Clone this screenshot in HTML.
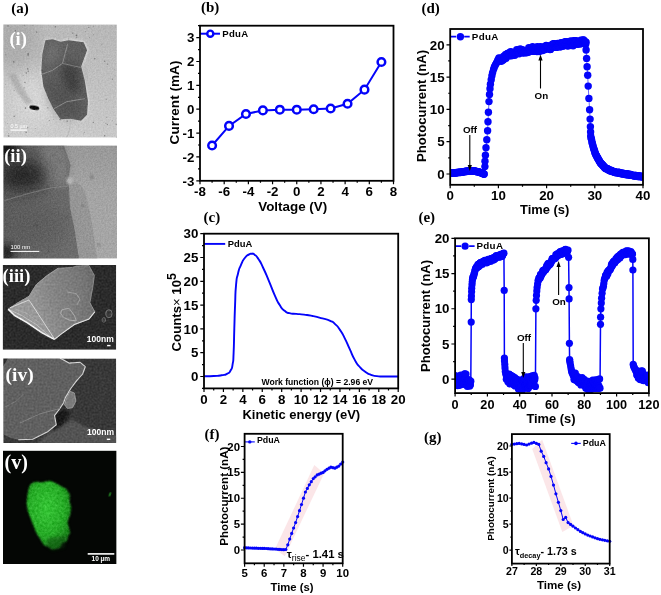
<!DOCTYPE html>
<html lang="en"><head><meta charset="utf-8"><title>PduA figure</title>
<style>html,body{margin:0;padding:0;background:#fff}body{width:661px;height:595px;overflow:hidden}svg{display:block}</style>
</head><body>
<svg width="661" height="595" viewBox="0 0 661 595">
<rect width="661" height="595" fill="#fff"/>
<defs>
<filter id="b05" x="-50%" y="-50%" width="200%" height="200%"><feGaussianBlur stdDeviation="0.5"/></filter>
<filter id="b1" x="-50%" y="-50%" width="200%" height="200%"><feGaussianBlur stdDeviation="0.9"/></filter>
<filter id="b2" x="-50%" y="-50%" width="200%" height="200%"><feGaussianBlur stdDeviation="1.8"/></filter>
<filter id="b4" x="-50%" y="-50%" width="200%" height="200%"><feGaussianBlur stdDeviation="4"/></filter>
<filter id="b8" x="-50%" y="-50%" width="200%" height="200%"><feGaussianBlur stdDeviation="8"/></filter>
<filter id="n1" filterUnits="userSpaceOnUse" x="0" y="0" width="125" height="595" color-interpolation-filters="sRGB"><feTurbulence type="fractalNoise" baseFrequency="0.6" numOctaves="3" seed="4" result="t"/><feColorMatrix in="t" type="matrix" values="1 0 0 0 0  1 0 0 0 0  1 0 0 0 0  0 0 0 0 1" result="g"/><feComposite in="SourceGraphic" in2="g" operator="arithmetic" k1="0" k2="1" k3="0.12" k4="-0.06"/></filter>
<filter id="n2" filterUnits="userSpaceOnUse" x="0" y="0" width="125" height="595" color-interpolation-filters="sRGB"><feTurbulence type="fractalNoise" baseFrequency="0.6" numOctaves="3" seed="9" result="t"/><feColorMatrix in="t" type="matrix" values="1 0 0 0 0  1 0 0 0 0  1 0 0 0 0  0 0 0 0 1" result="g"/><feComposite in="SourceGraphic" in2="g" operator="arithmetic" k1="0" k2="1" k3="0.14" k4="-0.07"/></filter>
<filter id="n3" filterUnits="userSpaceOnUse" x="0" y="0" width="125" height="595" color-interpolation-filters="sRGB"><feTurbulence type="fractalNoise" baseFrequency="0.5" numOctaves="3" seed="2" result="t"/><feColorMatrix in="t" type="matrix" values="1 0 0 0 0  1 0 0 0 0  1 0 0 0 0  0 0 0 0 1" result="g"/><feComposite in="SourceGraphic" in2="g" operator="arithmetic" k1="0" k2="1" k3="0.16" k4="-0.08"/></filter>
<filter id="n5" filterUnits="userSpaceOnUse" x="0" y="0" width="125" height="595" color-interpolation-filters="sRGB"><feTurbulence type="fractalNoise" baseFrequency="0.4" numOctaves="3" seed="7" result="t"/><feColorMatrix in="t" type="matrix" values="1 0 0 0 0  1 0 0 0 0  1 0 0 0 0  0 0 0 0 1" result="g"/><feComposite in="SourceGraphic" in2="g" operator="arithmetic" k1="0" k2="1" k3="0.22" k4="-0.11"/><feComposite operator="in" in2="SourceAlpha"/></filter>
<clipPath id="c1"><rect x="3.4" y="24.4" width="113.4" height="113.2"/></clipPath>
<clipPath id="c2"><rect x="3.4" y="145.4" width="113.6" height="113.2"/></clipPath>
<clipPath id="c3"><rect x="2.7" y="265.0" width="113.5" height="84.7"/></clipPath>
<clipPath id="c4"><rect x="3.3" y="358.5" width="112.9" height="84.5"/></clipPath>
<clipPath id="c5"><rect x="3.0" y="450.6" width="113.6" height="113.4"/></clipPath>
<linearGradient id="g1" x1="0.3" y1="1" x2="0.6" y2="0"><stop offset="0" stop-color="#cccccc"/><stop offset="0.5" stop-color="#c2c2c2"/><stop offset="1" stop-color="#b8b8b8"/></linearGradient>
<linearGradient id="g2" x1="0" y1="0" x2="1" y2="0.3"><stop offset="0" stop-color="#565656"/><stop offset="0.6" stop-color="#646464"/><stop offset="1" stop-color="#6c6c6c"/></linearGradient>
<linearGradient id="g2r" x1="0" y1="0" x2="0" y2="1"><stop offset="0" stop-color="#989898"/><stop offset="0.4" stop-color="#a4a4a4"/><stop offset="1" stop-color="#a6a6a6"/></linearGradient>
<linearGradient id="g3" x1="0" y1="0.6" x2="1" y2="0.4"><stop offset="0" stop-color="#a4a4a4"/><stop offset="0.4" stop-color="#909090"/><stop offset="1" stop-color="#6c6c6c"/></linearGradient>
<radialGradient id="g5" cx="0.45" cy="0.4" r="0.7"><stop offset="0" stop-color="#36c636"/><stop offset="0.55" stop-color="#27aa27"/><stop offset="1" stop-color="#166c16"/></radialGradient>
</defs>
<g clip-path="url(#c1)"><g filter="url(#n1)">
<rect x="3.4" y="24.4" width="113.4" height="113.2" fill="url(#g1)"/>
<ellipse cx="12" cy="40" rx="26" ry="30" fill="#a8a8a8" filter="url(#b8)" opacity="0.8"/>
<ellipse cx="34.3" cy="100.7" rx="22" ry="26" fill="#d6d6d6" filter="url(#b8)" opacity="0.9"/>
<polygon points="8.1,74.5 15.1,73.4 22.2,86.6 32.3,102.7 26.2,104.7 16.1,90.6" fill="#a0a0a0" filter="url(#b1)" opacity="0.6"/>
<polygon points="45.4,40.2 52.4,39.2 60.5,41.8 68.6,40.2 83.7,42.2 87.1,50.3 81.1,66.4 84.7,80.5 87.9,100.7 87.1,114.8 81.1,120.8 70.6,118.8 60.5,119.2 53.4,108.7 48.4,98.7 43.4,86.6 41.3,70.4 42.4,54.3" fill="#dcdcdc" stroke="#dcdcdc" stroke-width="2.4" stroke-linejoin="round" filter="url(#b1)"/>
<polygon points="45.4,40.2 52.4,39.2 60.5,41.8 68.6,40.2 83.7,42.2 87.1,50.3 81.1,66.4 84.7,80.5 87.9,100.7 87.1,114.8 81.1,120.8 70.6,118.8 60.5,119.2 53.4,108.7 48.4,98.7 43.4,86.6 41.3,70.4 42.4,54.3" fill="#5e5e5e" filter="url(#b05)"/>
<polygon points="60.5,64.4 76.6,63.4 80.7,80.5 79.7,92.6 68.6,94.6 62.5,80.5" fill="#3e3e3e" filter="url(#b4)" opacity="0.9"/>
<polygon points="46.4,78.5 64.5,86.6 80.7,104.7 80.7,116.8 60.5,116.8 50.4,100.7" fill="#505050" filter="url(#b4)" opacity="0.7"/>
<polygon points="46.4,42.2 60.5,43.2 58.5,60.3 43.4,68.4" fill="#747474" filter="url(#b4)" opacity="0.7"/>
<polyline points="41.3,74.5 52.4,70.4 62.5,63.4 67.6,44.2" stroke="#909090" stroke-width="0.9" filter="url(#b05)" fill="none"/>
<polyline points="54.1,108.7 66.6,101.7 84.7,98.7" stroke="#909090" stroke-width="0.9" filter="url(#b05)" fill="none"/>
<polyline points="62.5,63.4 80.7,67.4" stroke="#888" stroke-width="0.8" filter="url(#b05)" fill="none"/>
<polyline points="70.6,119.8 69.6,129.9 66.6,137.6" stroke="#b8b8b8" stroke-width="1" filter="url(#b05)" fill="none"/>
<ellipse cx="34.3" cy="107.7" rx="6" ry="3" fill="#f0f0f0" filter="url(#b1)"/>
<ellipse cx="34.3" cy="107.7" rx="5" ry="2.2" fill="#101010" filter="url(#b05)" transform="rotate(10 34.3 107.7)"/>
<g fill="#606060" opacity="0.7" filter="url(#b05)"><circle cx="55.1" cy="87.8" r="0.81"/><circle cx="56.6" cy="81.9" r="0.64"/><circle cx="24.9" cy="82.4" r="0.66"/><circle cx="93.6" cy="34.7" r="0.50"/><circle cx="14.2" cy="116.3" r="0.70"/><circle cx="8.7" cy="136.0" r="0.83"/><circle cx="77.9" cy="94.2" r="0.43"/><circle cx="5.7" cy="84.2" r="0.38"/><circle cx="25.5" cy="51.6" r="0.37"/><circle cx="56.4" cy="74.2" r="0.77"/><circle cx="62.7" cy="97.0" r="0.60"/><circle cx="78.9" cy="76.1" r="0.49"/><circle cx="116.7" cy="137.5" r="0.77"/><circle cx="84.0" cy="59.9" r="0.46"/><circle cx="36.7" cy="32.0" r="0.73"/><circle cx="49.2" cy="120.5" r="0.54"/><circle cx="112.3" cy="120.6" r="0.35"/><circle cx="27.7" cy="127.8" r="0.58"/><circle cx="114.8" cy="69.3" r="0.39"/><circle cx="75.1" cy="112.8" r="0.48"/><circle cx="13.8" cy="61.9" r="0.83"/><circle cx="89.7" cy="37.5" r="0.47"/><circle cx="15.4" cy="30.8" r="0.75"/><circle cx="24.1" cy="87.8" r="0.57"/><circle cx="25.5" cy="107.4" r="0.42"/><circle cx="76.7" cy="37.3" r="0.56"/><circle cx="28.1" cy="54.8" r="0.84"/><circle cx="94.8" cy="58.7" r="0.79"/><circle cx="27.8" cy="68.9" r="0.78"/><circle cx="76.5" cy="35.4" r="0.84"/><circle cx="28.1" cy="53.4" r="0.74"/><circle cx="41.2" cy="57.8" r="0.39"/><circle cx="14.2" cy="90.4" r="0.47"/><circle cx="71.9" cy="66.4" r="0.58"/><circle cx="112.4" cy="79.1" r="0.64"/><circle cx="101.9" cy="44.8" r="0.43"/><circle cx="106.7" cy="117.2" r="0.47"/><circle cx="25.4" cy="108.3" r="0.82"/><circle cx="26.2" cy="132.3" r="0.79"/><circle cx="72.2" cy="72.0" r="0.40"/><circle cx="8.4" cy="133.7" r="0.47"/><circle cx="83.6" cy="53.3" r="0.76"/><circle cx="71.4" cy="57.5" r="0.44"/><circle cx="85.4" cy="31.8" r="0.46"/><circle cx="67.2" cy="121.2" r="0.66"/><circle cx="35.7" cy="128.6" r="0.45"/><circle cx="5.9" cy="54.7" r="0.57"/><circle cx="10.8" cy="44.1" r="0.53"/><circle cx="68.7" cy="39.0" r="0.53"/><circle cx="104.7" cy="135.8" r="0.68"/><circle cx="82.1" cy="90.6" r="0.42"/><circle cx="8.0" cy="26.0" r="0.81"/><circle cx="83.2" cy="133.8" r="0.36"/><circle cx="75.9" cy="79.0" r="0.72"/><circle cx="40.0" cy="137.9" r="0.39"/><circle cx="65.7" cy="108.0" r="0.80"/><circle cx="87.3" cy="104.2" r="0.75"/><circle cx="107.4" cy="64.1" r="0.69"/><circle cx="105.8" cy="123.3" r="0.56"/><circle cx="93.3" cy="122.4" r="0.64"/><circle cx="74.6" cy="67.6" r="0.64"/><circle cx="72.8" cy="33.1" r="0.67"/><circle cx="116.2" cy="124.3" r="0.71"/><circle cx="47.9" cy="107.8" r="0.64"/><circle cx="53.8" cy="119.6" r="0.39"/><circle cx="88.8" cy="27.4" r="0.65"/><circle cx="58.3" cy="50.2" r="0.70"/><circle cx="60.2" cy="94.1" r="0.81"/><circle cx="32.9" cy="25.3" r="0.50"/><circle cx="80.6" cy="47.1" r="0.43"/><circle cx="106.3" cy="99.2" r="0.57"/><circle cx="104.8" cy="61.3" r="0.68"/><circle cx="26.4" cy="73.1" r="0.75"/><circle cx="107.3" cy="124.4" r="0.54"/><circle cx="69.9" cy="60.1" r="0.42"/><circle cx="60.1" cy="119.4" r="0.77"/><circle cx="84.4" cy="132.3" r="0.49"/><circle cx="23.1" cy="75.4" r="0.49"/><circle cx="28.2" cy="71.2" r="0.66"/><circle cx="59.8" cy="60.0" r="0.77"/><circle cx="115.0" cy="75.6" r="0.39"/><circle cx="7.6" cy="123.5" r="0.37"/><circle cx="84.1" cy="89.0" r="0.50"/><circle cx="93.4" cy="26.2" r="0.42"/><circle cx="55.4" cy="26.8" r="0.76"/><circle cx="30.8" cy="40.1" r="0.37"/><circle cx="75.1" cy="74.9" r="0.66"/><circle cx="78.0" cy="116.0" r="0.83"/><circle cx="81.3" cy="46.7" r="0.59"/><circle cx="24.2" cy="25.2" r="0.59"/></g>
</g>
<rect x="10.5" y="129.5" width="16.4" height="1.2" fill="#fff"/>
<text x="10.5" y="128.3" font-family="'Liberation Sans', Arial, sans-serif" font-size="5.2" fill="#fff" textLength="16.4" lengthAdjust="spacingAndGlyphs">0.5 µm</text>
</g>
<text x="9.4" y="44.8" font-family="'Liberation Serif', 'Times New Roman', serif" font-weight="bold" font-size="18.5" fill="#fff">(i)</text>
<g clip-path="url(#c2)"><g filter="url(#n2)">
<rect x="3.4" y="145.4" width="113.6" height="113.2" fill="url(#g2r)"/>
<polygon points="66.6,145.0 70.6,179.3 79.7,184.4 84.7,190.4 89.8,211.6 93.2,229.9 97.2,260.0 60.5,260.0 60.5,145.0" fill="#969696" filter="url(#b05)"/>
<polygon points="0.0,144.0 63.5,144.0 70.6,165.2 68.0,179.3 69.0,187.4 70.0,207.6 75.0,231.8 79.1,260.0 0.0,260.0" fill="url(#g2)" filter="url(#b05)"/>
<polygon points="40.3,145.0 63.5,145.0 69.6,165.2 67.6,184.4 50.4,187.0 42.4,171.3" fill="#808080" filter="url(#b4)" opacity="0.8"/>
<ellipse cx="22.2" cy="175.3" rx="24" ry="15" fill="#1e1e1e" filter="url(#b8)" opacity="0.85"/>
<ellipse cx="6.1" cy="149.1" rx="12" ry="10" fill="#101010" filter="url(#b4)" opacity="0.9"/>
<ellipse cx="7.1" cy="252.9" rx="7" ry="9" fill="#161616" filter="url(#b4)" opacity="0.95"/>
<ellipse cx="40.3" cy="225.7" rx="26" ry="22" fill="#5a5a5a" filter="url(#b8)" opacity="0.6"/>
<polyline points="4.4,200.5 30.3,193.0 50.4,188.0 68.0,185.8" stroke="#8c8c8c" stroke-width="1.2" filter="url(#b05)" opacity="0.6" fill="none"/>
<circle cx="70.0" cy="180.7" r="3.6" fill="#b4b4b4" filter="url(#b1)"/>
<circle cx="91.8" cy="176.9" r="1.76" fill="#404040" opacity="0.45" filter="url(#b1)"/>
<circle cx="53.4" cy="155.1" r="1.44" fill="#404040" opacity="0.45" filter="url(#b1)"/>
<circle cx="59.5" cy="161.2" r="1.28" fill="#404040" opacity="0.45" filter="url(#b1)"/>
<circle cx="30.3" cy="171.3" r="1.92" fill="#404040" opacity="0.45" filter="url(#b1)"/>
<circle cx="66.6" cy="217.6" r="1.28" fill="#404040" opacity="0.45" filter="url(#b1)"/>
<circle cx="82.7" cy="205.5" r="1.28" fill="#404040" opacity="0.45" filter="url(#b1)"/>
<circle cx="98.8" cy="244.9" r="1.44" fill="#404040" opacity="0.45" filter="url(#b1)"/>
<circle cx="36.3" cy="225.7" r="1.60" fill="#404040" opacity="0.45" filter="url(#b1)"/>
<circle cx="48.4" cy="250.9" r="1.28" fill="#404040" opacity="0.45" filter="url(#b1)"/>
</g>
<rect x="10.5" y="250.9" width="28.8" height="1" fill="#fff"/>
<text x="10.5" y="249.1" font-family="'Liberation Sans', Arial, sans-serif" font-size="5.4" fill="#fff" textLength="19.6" lengthAdjust="spacingAndGlyphs">100 nm</text>
</g>
<text x="4.2" y="162.2" font-family="'Liberation Serif', 'Times New Roman', serif" font-weight="bold" font-size="18.5" fill="#fff">(ii)</text>
<g clip-path="url(#c3)"><g filter="url(#n3)">
<rect x="2.7" y="265.0" width="113.5" height="84.7" fill="#2b2b2b"/>
<polygon points="58.1,268.3 72.6,267.4 76.3,266.1 89.0,265.5 94.4,275.5 92.6,288.2 89.9,302.8 94.8,311.8 89.0,319.1 74.4,324.5 61.7,333.6 54.5,339.4 41.8,332.7 27.2,322.7 14.5,315.5 8.2,309.1 16.3,303.7 29.0,296.4 36.3,284.6 47.2,275.5" fill="url(#g3)" stroke="#9a9a9a" stroke-width="0.8" stroke-linejoin="round" filter="url(#b05)"/>
<polygon points="54.5,271.9 87.1,270.1 90.8,288.2 87.1,304.6 69.0,315.5 47.2,306.4 39.9,290.0" fill="#808080" filter="url(#b4)" opacity="0.3"/>
<polygon points="8.2,309.1 29.0,300.0 54.5,339.4 41.8,332.7 27.2,322.7 14.5,315.5" fill="#9a9a9a" filter="url(#b1)" opacity="0.9"/>
<polyline points="10.9,310.4 21.8,315.5 36.3,324.5 50.8,337.3" stroke="#c8c8c8" stroke-width="0.8" filter="url(#b05)" fill="none"/>
<polyline points="14.5,308.6 27.2,313.7 41.8,324.5" stroke="#b0b0b0" stroke-width="0.8" filter="url(#b05)" fill="none"/>
<polyline points="8.2,309.1 14.5,315.5 27.2,322.7 41.8,332.7 54.5,339.4" stroke="#f4f4f4" stroke-width="1.5" filter="url(#b05)" fill="none"/>
<polyline points="10.0,307.8 29.0,300.0 42.7,320.9 54.5,339.1" stroke="#d8d8d8" stroke-width="1" filter="url(#b05)" fill="none"/>
<polyline points="16.3,303.7 29.0,296.4 36.3,284.6 47.2,275.5 58.1,268.3" stroke="#a0a0a0" stroke-width="0.8" filter="url(#b05)" fill="none"/>
<polyline points="54.5,339.4 61.7,333.6 74.4,324.5 89.0,319.1 94.8,311.8" stroke="#e0e0e0" stroke-width="1.1" filter="url(#b05)" fill="none"/>
<polyline points="61.7,310.0 69.0,308.2 74.4,315.5 76.3,320.9 69.0,320.0 63.5,317.3 60.8,313.7 61.7,310.0" stroke="#b4b4b4" stroke-width="0.8" filter="url(#b05)" fill="none"/>
<polyline points="67.2,291.9 76.3,293.7 79.9,299.1 77.2,304.6" stroke="#a8a8a8" stroke-width="0.8" filter="url(#b05)" fill="none"/>
<ellipse cx="108.9" cy="313.7" rx="3.2" ry="4" fill="#3a3a3a" stroke="#787878" stroke-width="0.9" filter="url(#b05)"/>
<ellipse cx="103.8" cy="320.0" rx="1.8" ry="2.4" fill="#3a3a3a" stroke="#6e6e6e" stroke-width="0.8" filter="url(#b05)"/>
</g>
<text x="86.8" y="342.0" font-family="'Liberation Sans', Arial, sans-serif" font-weight="bold" font-size="8.6" fill="#fff" textLength="27" lengthAdjust="spacingAndGlyphs">100nm</text>
<rect x="107.1" y="344.9" width="3.4" height="1.4" fill="#fff"/>
</g>
<text x="2.6" y="281.6" font-family="'Liberation Serif', 'Times New Roman', serif" font-weight="bold" font-size="18.5" fill="#fff">(iii)</text>
<g clip-path="url(#c4)"><g filter="url(#n3)">
<rect x="3.3" y="358.5" width="112.9" height="84.5" fill="#383838"/>
<polygon points="59.9,426.6 72.6,419.4 85.3,426.6 101.7,432.1 117.1,435.7 117.1,443.9 36.3,443.9 47.2,433.9" fill="#525252" filter="url(#b1)"/>
<polygon points="54.5,413.9 63.5,408.5 69.9,412.1 65.4,421.2 59.9,426.6 52.7,430.3" fill="#161616" filter="url(#b2)" opacity="0.9"/>
<polygon points="8.2,357.6 59.9,357.6 69.0,363.1 79.9,362.2 85.3,366.7 82.6,374.0 76.3,381.2 70.8,388.5 65.4,397.6 63.5,403.0 59.9,408.5 54.5,415.7 56.3,424.8 47.2,432.1 32.7,439.3 18.2,439.7 10.9,437.9 2.7,433.9 2.7,366.7" fill="#606060" filter="url(#b05)"/>
<polyline points="59.9,358.0 69.0,363.1 79.9,362.2 85.3,366.7 82.6,374.0 76.3,381.2 70.8,388.5 65.4,397.6 63.5,403.0 59.9,408.5 54.5,415.7 56.3,424.8 47.2,432.1 32.7,439.3 18.2,439.7" stroke="#d4d4d4" stroke-width="1.1" stroke-linejoin="round" filter="url(#b05)" fill="none"/>
<polygon points="66.3,398.5 69.9,391.2 74.4,393.0 75.9,401.2 72.6,407.6 67.5,408.5 64.5,404.8" fill="#7a7a7a" stroke="#b0b0b0" stroke-width="0.7" filter="url(#b05)"/>
<polygon points="2.7,357.6 8.2,357.6 2.7,366.7" fill="#2a2a2a" filter="url(#b05)"/>
<polyline points="20.0,423.0 39.9,413.9 59.9,408.5" stroke="#8a8a8a" stroke-width="0.8" filter="url(#b05)" fill="none"/>
<polyline points="5.4,406.7 16.3,401.2 23.6,393.9" stroke="#7c7c7c" stroke-width="0.8" filter="url(#b05)" fill="none"/>
<polyline points="98.9,370.3 105.3,390.3 98.9,406.7 101.7,415.7" stroke="#444" stroke-width="1" filter="url(#b1)" fill="none"/>
</g>
<text x="87.1" y="435.3" font-family="'Liberation Sans', Arial, sans-serif" font-weight="bold" font-size="8.6" fill="#fff" textLength="27" lengthAdjust="spacingAndGlyphs">100nm</text>
<rect x="106.8" y="438.6" width="3.4" height="1.4" fill="#fff"/>
</g>
<text x="5.6" y="381.0" font-family="'Liberation Serif', 'Times New Roman', serif" font-weight="bold" font-size="19.4" fill="#fff">(iv)</text>
<g clip-path="url(#c5)">
<rect x="3.0" y="450.6" width="113.6" height="113.4" fill="#040604"/>
<g filter="url(#n5)">
<polygon points="28.2,487.3 30.3,483.3 35.3,480.9 41.3,481.7 50.4,479.9 57.5,483.3 62.5,486.3 66.6,488.3 70.6,494.4 70.2,501.5 72.0,507.5 70.6,515.6 68.2,521.6 69.6,527.7 71.0,532.7 68.6,536.8 67.6,541.8 62.5,543.8 60.5,548.3 52.4,550.3 48.4,547.4 43.4,545.8 39.3,538.8 35.9,533.7 32.3,524.7 30.3,519.6 27.2,511.5 25.8,503.5 26.6,495.4" fill="url(#g5)" filter="url(#b1)"/>
</g>
<polygon points="48.4,537.8 66.6,535.7 64.5,547.8 52.4,550.9 45.4,545.8" fill="#0c3a0c" filter="url(#b2)" opacity="0.4"/>
<ellipse cx="109.9" cy="494.4" rx="1.1" ry="2.4" fill="#1d6a1d" filter="url(#b05)" transform="rotate(20 109.9 494.4)"/>
<rect x="87.7" y="553.1" width="26.6" height="1.6" fill="#fff"/>
<text x="100.8" y="560.8" font-family="'Liberation Sans', Arial, sans-serif" font-weight="bold" font-size="6.5" fill="#fff" text-anchor="middle">10 µm</text>
</g>
<text x="4.6" y="468.8" font-family="'Liberation Serif', 'Times New Roman', serif" font-weight="bold" font-size="20" fill="#fff">(v)</text>
<text x="11.30" y="12.60" font-family="'Liberation Serif', 'Times New Roman', serif" font-weight="bold" font-size="15" text-anchor="start" fill="#000" >(a)</text>
<text x="201.00" y="12.40" font-family="'Liberation Serif', 'Times New Roman', serif" font-weight="bold" font-size="15" text-anchor="start" fill="#000" >(b)</text>
<text x="203.50" y="222.00" font-family="'Liberation Serif', 'Times New Roman', serif" font-weight="bold" font-size="15" text-anchor="start" fill="#000" >(c)</text>
<text x="421.40" y="12.70" font-family="'Liberation Serif', 'Times New Roman', serif" font-weight="bold" font-size="15" text-anchor="start" fill="#000" >(d)</text>
<text x="418.40" y="222.00" font-family="'Liberation Serif', 'Times New Roman', serif" font-weight="bold" font-size="15" text-anchor="start" fill="#000" >(e)</text>
<text x="204.50" y="438.50" font-family="'Liberation Serif', 'Times New Roman', serif" font-weight="bold" font-size="15" text-anchor="start" fill="#000" >(f)</text>
<text x="424.00" y="441.50" font-family="'Liberation Serif', 'Times New Roman', serif" font-weight="bold" font-size="15" text-anchor="start" fill="#000" >(g)</text>
<path d="M200 33.7H220" stroke="#0404fa" stroke-width="2"/>
<circle cx="210.3" cy="33.7" r="3.05" fill="#fff" stroke="#0404fa" stroke-width="2.4"/>
<polyline fill="none" stroke="#0404fa" stroke-width="2.0" points="212.09,145.48 229.03,125.92 245.96,113.99 262.89,110.41 279.82,109.69 296.75,109.69 313.68,109.22 330.61,108.50 347.54,103.73 364.48,89.65 381.41,61.97"/>
<circle cx="212.09" cy="145.48" r="3.8" fill="#fff" stroke="#0404fa" stroke-width="2.5"/>
<circle cx="229.03" cy="125.92" r="3.8" fill="#fff" stroke="#0404fa" stroke-width="2.5"/>
<circle cx="245.96" cy="113.99" r="3.8" fill="#fff" stroke="#0404fa" stroke-width="2.5"/>
<circle cx="262.89" cy="110.41" r="3.8" fill="#fff" stroke="#0404fa" stroke-width="2.5"/>
<circle cx="279.82" cy="109.69" r="3.8" fill="#fff" stroke="#0404fa" stroke-width="2.5"/>
<circle cx="296.75" cy="109.69" r="3.8" fill="#fff" stroke="#0404fa" stroke-width="2.5"/>
<circle cx="313.68" cy="109.22" r="3.8" fill="#fff" stroke="#0404fa" stroke-width="2.5"/>
<circle cx="330.61" cy="108.50" r="3.8" fill="#fff" stroke="#0404fa" stroke-width="2.5"/>
<circle cx="347.54" cy="103.73" r="3.8" fill="#fff" stroke="#0404fa" stroke-width="2.5"/>
<circle cx="364.48" cy="89.65" r="3.8" fill="#fff" stroke="#0404fa" stroke-width="2.5"/>
<circle cx="381.41" cy="61.97" r="3.8" fill="#fff" stroke="#0404fa" stroke-width="2.5"/>
<rect x="200.00" y="25.70" width="193.50" height="155.10" fill="none" stroke="#000" stroke-width="1.8"/>
<path d="M200.00 180.80v3.5M224.19 180.80v3.5M248.38 180.80v3.5M272.56 180.80v3.5M296.75 180.80v3.5M320.94 180.80v3.5M345.12 180.80v3.5M369.31 180.80v3.5M393.50 180.80v3.5M212.09 180.80v2.0M236.28 180.80v2.0M260.47 180.80v2.0M284.66 180.80v2.0M308.84 180.80v2.0M333.03 180.80v2.0M357.22 180.80v2.0M381.41 180.80v2.0" stroke="#000" stroke-width="1.2" fill="none"/>
<g font-family="'Liberation Sans', Arial, sans-serif" font-weight="bold" font-size="13.3" text-anchor="middle" fill="#000">
<text x="200.00" y="196.40">-8</text>
<text x="224.19" y="196.40">-6</text>
<text x="248.38" y="196.40">-4</text>
<text x="272.56" y="196.40">-2</text>
<text x="296.75" y="196.40">0</text>
<text x="320.94" y="196.40">2</text>
<text x="345.12" y="196.40">4</text>
<text x="369.31" y="196.40">6</text>
<text x="393.50" y="196.40">8</text>
</g>
<path d="M200.00 180.80h-3.7M200.00 156.94h-3.7M200.00 133.08h-3.7M200.00 109.22h-3.7M200.00 85.35h-3.7M200.00 61.49h-3.7M200.00 37.63h-3.7M200.00 168.87h-2.0M200.00 145.01h-2.0M200.00 121.15h-2.0M200.00 97.28h-2.0M200.00 73.42h-2.0M200.00 49.56h-2.0M200.00 25.70h-2.0" stroke="#000" stroke-width="1.2" fill="none"/>
<g font-family="'Liberation Sans', Arial, sans-serif" font-weight="bold" font-size="13.3" text-anchor="end" fill="#000">
<text x="194.40" y="185.50">-3</text>
<text x="194.40" y="161.64">-2</text>
<text x="194.40" y="137.78">-1</text>
<text x="194.40" y="113.92">0</text>
<text x="194.40" y="90.05">1</text>
<text x="194.40" y="66.19">2</text>
<text x="194.40" y="42.33">3</text>
</g>
<text x="222.20" y="36.90" font-family="'Liberation Sans', Arial, sans-serif" font-weight="bold" font-size="9.6" text-anchor="start" fill="#000" letter-spacing="0.3">PduA</text>
<text x="292.70" y="210.60" font-family="'Liberation Sans', Arial, sans-serif" font-weight="bold" font-size="13.4" text-anchor="middle" fill="#000" >Voltage (V)</text>
<text transform="translate(178.60 102.50) rotate(-90)" font-family="'Liberation Sans', Arial, sans-serif" font-weight="bold" font-size="13.6" text-anchor="middle" fill="#000">Current (mA)</text>
<path fill="none" stroke="#0404fa" stroke-width="1.9" stroke-linejoin="round" d="M204.00 376.26C207.24 376.18 207.88 376.34 213.71 376.02C219.54 375.71 216.95 376.10 221.48 375.31C226.01 374.52 224.23 375.31 227.30 373.64C230.38 371.98 228.92 373.49 230.70 370.31C232.48 367.14 231.67 369.99 232.64 364.12C233.62 358.25 233.07 364.44 233.62 352.70C234.17 340.96 233.81 344.77 234.30 328.90C234.78 313.03 234.49 319.70 235.07 305.10C235.65 290.50 235.07 295.58 236.04 285.11C237.01 274.64 236.37 280.35 237.98 273.68C239.60 267.02 238.63 270.35 240.90 265.12C243.16 259.88 242.19 261.47 244.78 257.98C247.37 254.49 246.40 256.07 248.67 254.64C250.93 253.22 249.64 253.69 251.58 253.69C253.52 253.69 252.23 252.90 254.49 254.64C256.76 256.39 255.46 254.49 258.38 258.93C261.29 263.37 259.67 260.51 263.23 267.97C266.79 275.43 265.17 272.10 269.06 281.30C272.94 290.50 271.32 287.65 274.88 295.58C278.44 303.51 276.50 300.02 279.74 305.10C282.97 310.18 281.36 308.11 284.59 310.81C287.83 313.51 285.56 312.16 289.45 313.19C293.33 314.22 291.39 313.43 296.25 313.91C301.10 314.38 298.51 313.91 304.01 314.62C309.52 315.33 306.60 314.78 312.75 316.05C318.90 317.32 316.64 316.84 322.46 318.43C328.29 320.01 326.02 318.90 330.23 320.81C334.44 322.71 331.85 321.13 335.09 324.14C338.32 327.15 336.70 325.09 339.94 329.85C343.18 334.61 341.56 332.07 344.79 338.42C348.03 344.77 346.41 341.91 349.65 348.89C352.89 355.87 351.27 353.49 354.50 359.36C357.74 365.23 355.80 362.38 359.36 366.50C362.92 370.63 361.30 368.96 365.19 371.74C369.07 374.52 367.13 373.37 371.01 374.83C374.90 376.29 372.31 375.56 376.84 376.12C381.37 376.67 377.49 376.37 384.61 376.50C391.73 376.63 393.67 376.50 398.20 376.50"/>
<path d="M204 243.9H225.2" stroke="#0404fa" stroke-width="1.9"/>
<rect x="204.00" y="233.70" width="194.20" height="154.70" fill="none" stroke="#000" stroke-width="1.8"/>
<path d="M204.00 388.40v3.5M223.42 388.40v3.5M242.84 388.40v3.5M262.26 388.40v3.5M281.68 388.40v3.5M301.10 388.40v3.5M320.52 388.40v3.5M339.94 388.40v3.5M359.36 388.40v3.5M378.78 388.40v3.5M398.20 388.40v3.5M213.71 388.40v2.0M233.13 388.40v2.0M252.55 388.40v2.0M271.97 388.40v2.0M291.39 388.40v2.0M310.81 388.40v2.0M330.23 388.40v2.0M349.65 388.40v2.0M369.07 388.40v2.0M388.49 388.40v2.0" stroke="#000" stroke-width="1.2" fill="none"/>
<g font-family="'Liberation Sans', Arial, sans-serif" font-weight="bold" font-size="13.3" text-anchor="middle" fill="#000">
<text x="204.00" y="404.00">0</text>
<text x="223.42" y="404.00">2</text>
<text x="242.84" y="404.00">4</text>
<text x="262.26" y="404.00">6</text>
<text x="281.68" y="404.00">8</text>
<text x="301.10" y="404.00">10</text>
<text x="320.52" y="404.00">12</text>
<text x="339.94" y="404.00">14</text>
<text x="359.36" y="404.00">16</text>
<text x="378.78" y="404.00">18</text>
<text x="398.20" y="404.00">20</text>
</g>
<path d="M204.00 376.50h-3.7M204.00 352.70h-3.7M204.00 328.90h-3.7M204.00 305.10h-3.7M204.00 281.30h-3.7M204.00 257.50h-3.7M204.00 233.70h-3.7M204.00 388.40h-2.0M204.00 364.60h-2.0M204.00 340.80h-2.0M204.00 317.00h-2.0M204.00 293.20h-2.0M204.00 269.40h-2.0M204.00 245.60h-2.0" stroke="#000" stroke-width="1.2" fill="none"/>
<g font-family="'Liberation Sans', Arial, sans-serif" font-weight="bold" font-size="13.3" text-anchor="end" fill="#000">
<text x="198.40" y="381.20">0</text>
<text x="198.40" y="357.40">5</text>
<text x="198.40" y="333.60">10</text>
<text x="198.40" y="309.80">15</text>
<text x="198.40" y="286.00">20</text>
<text x="198.40" y="262.20">25</text>
<text x="198.40" y="238.40">30</text>
</g>
<text x="227.80" y="247.20" font-family="'Liberation Sans', Arial, sans-serif" font-weight="bold" font-size="9.4" text-anchor="start" fill="#000" >PduA</text>
<text x="317.30" y="384.50" font-family="'Liberation Sans', Arial, sans-serif" font-weight="bold" font-size="8.6" text-anchor="middle" fill="#000" >Work function (ϕ) = 2.96 eV</text>
<text x="301.30" y="419.00" font-family="'Liberation Sans', Arial, sans-serif" font-weight="bold" font-size="13" text-anchor="middle" fill="#000" >Kinetic energy (eV)</text>
<text transform="translate(180.8 312.2) rotate(-90)" font-family="'Liberation Sans', Arial, sans-serif" font-weight="bold" font-size="13.2" text-anchor="middle" fill="#000">Counts<tspan font-weight="normal">×</tspan> 10<tspan dy="-5" font-size="12.5">5</tspan></text>
<defs><marker id="md" markerWidth="9" markerHeight="9" refX="4.5" refY="4.5" markerUnits="userSpaceOnUse"><circle cx="4.5" cy="4.5" r="3.7" fill="#0404fa"/></marker>
<marker id="me" markerWidth="9" markerHeight="9" refX="4.5" refY="4.5" markerUnits="userSpaceOnUse"><circle cx="4.5" cy="4.5" r="3.6" fill="#0404fa"/></marker>
<marker id="mf" markerWidth="6" markerHeight="6" refX="3" refY="3" markerUnits="userSpaceOnUse"><circle cx="3" cy="3" r="1.6" fill="#0404fa"/></marker></defs>
<clipPath id="cd"><rect x="450.20" y="29.00" width="192.80" height="155.80"/></clipPath>
<polyline clip-path="url(#cd)" fill="none" stroke="#0404fa" stroke-width="0.6" marker-start="url(#md)" marker-mid="url(#md)" marker-end="url(#md)" points="450.2,173.1 450.7,173.2 451.2,172.9 451.6,173.2 452.1,172.9 452.6,173.0 453.1,173.1 453.6,172.8 454.1,173.1 454.5,172.8 455.0,173.0 455.5,172.9 456.0,172.7 456.5,172.4 456.9,172.8 457.4,172.7 457.9,172.4 458.4,172.2 458.9,172.4 459.4,172.5 459.8,172.1 460.3,172.6 460.8,172.0 461.3,172.3 461.8,172.3 462.2,172.2 462.7,172.0 463.2,171.6 463.7,171.9 464.2,171.6 464.7,171.4 465.1,171.5 465.6,171.3 466.1,171.5 466.6,171.5 467.1,171.3 467.6,170.9 468.0,171.1 468.5,171.1 469.0,170.9 469.5,171.0 470.0,171.0 470.4,170.7 470.9,170.7 471.4,171.0 471.9,170.7 472.4,170.8 472.9,170.7 473.3,170.8 473.8,171.2 474.3,170.8 474.8,171.4 475.3,171.3 475.7,171.1 476.2,171.6 476.7,171.4 477.2,171.9 477.7,171.6 478.2,171.7 478.6,172.0 479.1,172.0 479.6,172.5 480.1,172.4 480.6,172.6 481.0,172.8 481.5,173.1 482.0,173.0 482.5,173.2 483.0,173.6 483.5,173.7 483.9,174.3 484.2,174.0 484.9,166.6 485.0,161.3 485.4,155.3 486.0,147.8 486.8,139.8 487.6,130.7 488.0,121.7 488.4,112.3 489.0,101.6 489.5,94.5 490.0,88.7 490.4,84.2 491.2,79.7 491.9,75.8 492.6,72.6 493.6,69.3 494.5,66.8 495.5,64.8 496.5,62.9 497.4,61.6 497.9,59.9 498.4,60.2 498.9,58.0 499.4,58.5 499.8,60.9 500.3,60.0 500.8,58.1 501.3,61.2 501.8,58.7 502.3,60.0 502.7,60.0 503.2,60.0 503.7,56.1 504.2,59.1 504.7,58.2 505.1,57.3 505.6,54.5 506.1,58.3 506.6,56.2 507.1,55.4 507.6,53.4 508.0,53.5 508.5,53.1 509.0,55.9 509.5,55.1 510.0,55.2 510.4,52.3 510.9,51.7 511.4,55.7 511.9,55.4 512.4,55.0 512.9,54.8 513.3,53.3 513.8,52.6 514.3,54.1 514.8,55.3 515.3,53.0 515.8,53.1 516.2,52.0 516.7,49.8 517.2,51.1 517.7,51.8 518.2,51.2 518.6,50.7 519.1,53.8 519.6,49.3 520.1,49.8 520.6,49.2 521.1,49.5 521.5,51.4 522.0,51.3 522.5,52.7 523.0,49.9 523.5,52.7 523.9,52.7 524.4,51.9 524.9,52.0 525.4,51.1 525.9,52.5 526.4,52.7 526.8,51.8 527.3,52.0 527.8,50.6 528.3,52.3 528.8,47.8 529.2,49.1 529.7,51.5 530.2,50.9 530.7,50.3 531.2,50.2 531.7,51.3 532.1,47.5 532.6,46.8 533.1,49.5 533.6,49.4 534.1,51.4 534.5,51.3 535.0,50.0 535.5,50.4 536.0,47.5 536.5,50.9 537.0,51.6 537.4,46.8 537.9,49.0 538.4,50.9 538.9,48.9 539.4,51.5 539.9,48.9 540.3,46.6 540.8,47.2 541.3,48.0 541.8,50.2 542.3,49.6 542.7,50.5 543.2,47.3 543.7,48.4 544.2,47.0 544.7,49.2 545.2,49.6 545.6,46.5 546.1,45.5 546.6,46.0 547.1,46.2 547.6,46.0 548.0,46.3 548.5,48.8 549.0,47.2 549.5,47.9 550.0,49.5 550.5,49.4 550.9,48.0 551.4,48.0 551.9,45.6 552.4,44.2 552.9,46.7 553.3,44.1 553.8,43.7 554.3,43.8 554.8,46.8 555.3,47.4 555.8,47.3 556.2,47.3 556.7,47.2 557.2,44.9 557.7,43.4 558.2,43.6 558.6,45.4 559.1,44.4 559.6,43.5 560.1,47.1 560.6,44.1 561.1,42.7 561.5,43.3 562.0,43.4 562.5,44.7 563.0,46.2 563.5,43.0 564.0,45.3 564.4,42.8 564.9,41.8 565.4,44.8 565.9,44.7 566.4,41.8 566.8,42.9 567.3,45.7 567.8,45.8 568.3,45.6 568.8,41.7 569.3,42.1 569.7,45.5 570.2,41.9 570.7,41.0 571.2,42.6 571.7,44.2 572.1,43.1 572.6,45.2 573.1,45.7 573.6,40.7 574.1,42.3 574.6,42.9 575.0,40.7 575.5,43.2 576.0,40.9 576.5,41.0 577.0,44.2 577.4,43.9 577.9,43.6 578.4,43.8 578.9,42.0 579.4,43.6 579.9,42.7 580.3,44.1 580.8,40.1 581.3,42.9 581.8,42.4 582.3,41.7 582.8,40.0 583.2,42.5 583.7,39.9 584.2,42.0 584.7,41.8 585.2,41.8 585.6,44.4 586.1,42.2 586.1,50.0 586.6,58.4 587.1,66.8 587.7,75.2 588.2,86.1 588.9,98.4 589.6,109.7 590.1,119.1 590.4,126.8 590.6,132.0 590.7,136.1 591.1,138.2 591.5,139.3 591.9,141.8 592.2,143.1 592.6,144.4 593.0,146.1 593.4,147.8 593.8,148.8 594.2,150.0 594.6,150.9 594.9,152.8 595.3,153.3 595.7,154.4 596.1,155.3 596.5,155.6 596.9,156.8 597.3,157.4 597.6,157.9 598.0,158.4 598.4,159.5 598.8,160.0 599.2,160.8 599.6,161.4 600.0,161.9 600.3,162.8 600.7,163.3 601.1,163.8 601.5,163.7 601.9,164.4 602.3,164.6 602.7,164.9 603.0,166.0 603.4,166.1 603.8,166.1 604.2,166.6 604.6,167.7 605.0,167.9 605.4,167.8 605.7,168.5 606.1,168.5 606.5,168.9 606.9,168.6 607.3,168.7 607.7,168.8 608.1,169.8 608.4,169.5 608.8,169.8 609.2,170.6 609.6,170.0 610.0,170.1 610.4,171.0 610.8,170.3 611.1,171.0 611.5,171.0 611.9,170.6 612.3,170.9 612.7,171.7 613.1,171.5 613.5,171.5 613.8,171.8 614.2,172.1 614.6,172.0 615.0,171.7 615.4,172.6 615.8,172.1 616.2,172.4 616.5,172.9 616.9,172.6 617.3,172.4 617.7,172.6 618.1,173.1 618.5,172.3 618.9,172.5 619.2,172.4 619.6,173.4 620.0,173.3 620.4,173.6 620.8,172.9 621.2,173.5 621.6,173.8 621.9,173.5 622.3,173.1 622.7,173.3 623.1,173.9 623.5,174.1 623.9,173.4 624.3,173.8 624.6,173.7 625.0,174.4 625.4,174.5 625.8,173.9 626.2,174.2 626.6,174.7 626.9,173.8 627.3,174.2 627.7,174.1 628.1,174.9 628.5,174.2 628.9,175.0 629.3,174.3 629.6,174.8 630.0,174.9 630.4,174.8 630.8,174.4 631.2,175.2 631.6,175.4 632.0,175.0 632.3,175.4 632.7,175.6 633.1,175.6 633.5,175.8 633.9,175.7 634.3,175.6 634.7,175.7 635.0,175.3 635.4,175.9 635.8,175.7 636.2,176.1 636.6,176.0 637.0,176.4 637.4,176.2 637.7,176.5 638.1,175.8 638.5,176.1 638.9,176.5 639.3,176.3 639.7,175.9 640.1,176.8 640.4,176.1 640.8,176.6 641.2,176.6 641.6,176.3 642.0,176.8 642.4,176.8 642.8,176.7 643.1,176.4"/>
<path d="M450.2 36.7H469.7" stroke="#0404fa" stroke-width="1.8" stroke-dasharray="6 1.5 5 1.5 6"/>
<circle cx="460.4" cy="36.7" r="3.7" fill="#0404fa"/>
<rect x="450.20" y="29.00" width="192.80" height="155.80" fill="none" stroke="#000" stroke-width="1.8"/>
<path d="M450.20 184.80v3.5M498.40 184.80v3.5M546.60 184.80v3.5M594.80 184.80v3.5M643.00 184.80v3.5M474.30 184.80v2.0M522.50 184.80v2.0M570.70 184.80v2.0M618.90 184.80v2.0" stroke="#000" stroke-width="1.2" fill="none"/>
<g font-family="'Liberation Sans', Arial, sans-serif" font-weight="bold" font-size="13.3" text-anchor="middle" fill="#000">
<text x="450.20" y="199.80">0</text>
<text x="498.40" y="199.80">10</text>
<text x="546.60" y="199.80">20</text>
<text x="594.80" y="199.80">30</text>
<text x="643.00" y="199.80">40</text>
</g>
<path d="M450.20 174.00h-3.7M450.20 141.70h-3.7M450.20 109.40h-3.7M450.20 77.10h-3.7M450.20 44.80h-3.7M450.20 157.85h-2.0M450.20 125.55h-2.0M450.20 93.25h-2.0M450.20 60.95h-2.0" stroke="#000" stroke-width="1.2" fill="none"/>
<g font-family="'Liberation Sans', Arial, sans-serif" font-weight="bold" font-size="13.3" text-anchor="end" fill="#000">
<text x="444.60" y="178.70">0</text>
<text x="444.60" y="146.40">5</text>
<text x="444.60" y="114.10">10</text>
<text x="444.60" y="81.80">15</text>
<text x="444.60" y="49.50">20</text>
</g>
<text x="471.80" y="39.60" font-family="'Liberation Sans', Arial, sans-serif" font-weight="bold" font-size="9.8" text-anchor="start" fill="#000" letter-spacing="0.3">PduA</text>
<text x="544.60" y="214.00" font-family="'Liberation Sans', Arial, sans-serif" font-weight="bold" font-size="12.9" text-anchor="middle" fill="#000" >Time (s)</text>
<text transform="translate(426.00 105.90) rotate(-90)" font-family="'Liberation Sans', Arial, sans-serif" font-weight="bold" font-size="13.1" text-anchor="middle" fill="#000">Photocurrent (nA)</text>
<path d="M469.80 135.00V168.00" stroke="#000" stroke-width="1.1"/>
<path d="M469.80 171.00l-2.1 -6h4.2z" fill="#000"/>
<text x="470.00" y="133.30" font-family="'Liberation Sans', Arial, sans-serif" font-weight="bold" font-size="9.8" text-anchor="middle" fill="#000" >Off</text>
<path d="M540.50 88.50V57.50" stroke="#000" stroke-width="1.1"/>
<path d="M540.50 54.50l-2.1 6h4.2z" fill="#000"/>
<text x="541.40" y="98.70" font-family="'Liberation Sans', Arial, sans-serif" font-weight="bold" font-size="9.8" text-anchor="middle" fill="#000" >On</text>
<clipPath id="ce"><rect x="455.10" y="238.30" width="193.80" height="154.80"/></clipPath>
<polyline clip-path="url(#ce)" fill="none" stroke="#0404fa" stroke-width="1.5" stroke-linejoin="round" marker-start="url(#me)" marker-mid="url(#me)" marker-end="url(#me)" points="455.1,381.9 455.5,375.7 455.9,377.3 456.3,378.2 456.7,381.1 457.1,381.9 457.5,385.6 457.9,384.6 458.3,385.4 458.7,376.9 459.1,383.0 459.5,384.2 459.9,385.2 460.3,375.6 460.8,375.2 461.2,377.8 461.6,382.7 462.0,383.2 462.4,382.5 462.8,380.4 463.2,384.3 463.6,380.6 464.0,382.9 464.4,374.1 464.8,373.9 465.2,379.3 465.6,383.2 466.0,374.0 466.4,382.3 466.8,381.7 467.2,386.3 467.6,381.4 468.0,380.2 468.4,379.9 468.8,383.7 469.2,379.9 469.6,386.2 470.0,382.9 470.4,385.1 470.8,381.2 471.2,322.1 471.3,299.6 471.4,296.1 471.6,291.8 471.7,288.3 472.0,284.8 472.2,282.0 472.5,279.2 472.9,277.1 473.2,277.3 473.6,276.2 474.0,274.2 474.4,273.3 474.8,271.0 475.2,270.1 475.6,268.3 476.0,268.1 476.4,267.4 476.8,266.3 477.2,267.5 477.6,267.2 478.0,264.3 478.4,266.8 478.8,264.2 479.2,264.0 479.6,265.8 480.1,262.9 480.5,262.5 480.9,263.2 481.3,262.6 481.7,262.2 482.1,264.4 482.5,262.8 482.9,262.7 483.3,261.3 483.7,261.3 484.1,261.0 484.5,261.7 484.9,260.4 485.3,260.9 485.7,260.8 486.1,262.2 486.5,262.8 486.9,262.3 487.3,261.4 487.7,262.1 488.1,259.4 488.5,260.2 488.9,259.9 489.3,259.7 489.7,259.4 490.1,259.9 490.5,261.5 491.0,258.6 491.4,258.6 491.8,259.3 492.2,259.0 492.6,258.3 493.0,260.2 493.4,257.7 493.8,259.2 494.2,259.6 494.6,258.8 495.0,257.0 495.4,258.6 495.8,256.5 496.2,255.5 496.6,257.0 497.0,257.2 497.4,256.7 497.8,255.8 498.2,255.3 498.6,255.7 499.0,255.4 499.4,257.2 499.8,256.8 500.2,256.3 500.6,254.4 501.0,255.7 501.5,254.6 501.9,256.4 502.3,256.1 502.7,255.1 503.1,253.5 503.5,253.3 503.9,253.2 504.2,290.4 504.4,358.1 504.5,360.9 504.8,364.4 505.0,367.9 505.3,371.5 505.8,374.3 506.3,379.2 506.7,377.2 507.1,377.9 507.5,378.1 507.9,381.8 508.3,374.4 508.7,381.5 509.1,374.0 509.5,374.7 509.9,384.0 510.3,379.8 510.7,376.5 511.1,375.3 511.5,380.6 511.9,382.7 512.4,383.5 512.8,376.4 513.2,383.9 513.6,380.5 514.0,385.1 514.4,381.5 514.8,377.5 515.2,385.9 515.6,379.3 516.0,382.6 516.4,379.1 516.8,381.2 517.2,386.1 517.6,379.7 518.0,384.0 518.4,388.8 518.8,389.2 519.2,384.7 519.6,385.3 520.0,387.4 520.4,389.3 520.8,386.6 521.2,386.9 521.6,380.1 522.0,390.6 522.4,381.0 522.8,379.8 523.3,388.8 523.7,378.5 524.1,381.1 524.5,378.6 524.9,386.2 525.3,385.0 525.7,384.7 526.1,376.9 526.5,382.0 526.9,384.8 527.3,383.8 527.7,385.6 528.1,388.4 528.5,387.6 528.9,378.2 529.3,385.0 529.7,376.7 530.1,385.3 530.5,385.0 530.9,381.7 531.3,385.7 531.7,383.3 532.1,375.8 532.5,376.6 532.9,377.4 533.3,379.6 533.8,375.9 534.2,375.4 534.6,380.3 535.0,378.0 535.4,386.4 535.9,308.8 536.2,300.3 536.5,295.4 536.8,291.1 537.1,287.6 537.6,284.1 538.1,280.5 538.5,280.3 538.9,278.0 539.3,277.5 539.7,278.1 540.1,278.2 540.5,274.4 540.9,276.5 541.3,274.6 541.7,274.4 542.1,273.8 542.6,271.7 543.0,270.3 543.4,272.3 543.8,270.4 544.2,271.1 544.6,269.7 545.0,269.7 545.4,270.0 545.8,269.5 546.2,268.8 546.6,265.8 547.0,266.7 547.4,267.2 547.8,264.2 548.2,263.4 548.6,264.8 549.0,265.3 549.4,264.6 549.8,264.4 550.2,263.0 550.6,263.4 551.0,262.3 551.4,261.7 551.8,260.1 552.2,258.5 552.6,258.6 553.0,259.4 553.5,259.0 553.9,258.2 554.3,258.3 554.7,258.0 555.1,258.6 555.5,257.4 555.9,254.5 556.3,257.1 556.7,255.4 557.1,254.6 557.5,253.6 557.9,255.6 558.3,255.2 558.7,255.0 559.1,254.2 559.5,253.9 559.9,251.8 560.3,252.0 560.7,251.6 561.1,254.4 561.5,254.1 561.9,251.6 562.3,250.8 562.7,252.1 563.1,251.6 563.5,253.5 564.0,252.0 564.4,250.0 564.8,250.2 565.2,249.9 565.6,249.4 566.0,251.9 566.4,252.5 566.8,252.5 567.2,251.3 567.6,250.9 568.0,250.1 568.6,257.3 569.0,287.6 569.1,298.9 569.4,343.3 569.6,359.5 569.8,360.9 570.1,363.0 570.6,365.8 571.1,368.7 571.5,370.8 572.0,372.4 572.4,373.3 572.8,372.6 573.2,375.5 573.6,375.0 574.0,379.6 574.4,373.7 574.9,378.6 575.3,373.1 575.7,375.7 576.1,378.9 576.5,380.7 576.9,379.9 577.3,377.0 577.7,376.7 578.1,382.0 578.5,382.6 578.9,379.1 579.3,378.9 579.7,380.8 580.1,382.5 580.5,379.6 580.9,384.9 581.3,382.7 581.7,381.7 582.1,377.7 582.5,380.7 582.9,379.0 583.3,382.7 583.7,385.0 584.1,385.2 584.5,379.5 584.9,382.0 585.3,385.6 585.8,388.3 586.2,384.6 586.6,383.4 587.0,385.8 587.4,387.5 587.9,384.4 588.3,381.4 588.7,389.2 589.1,391.3 589.5,387.8 589.9,386.8 590.3,383.8 590.7,389.2 591.1,382.4 591.5,382.9 591.9,385.5 592.3,388.8 592.7,380.1 593.1,387.5 593.5,381.7 593.9,388.3 594.3,388.3 594.7,382.1 595.1,387.3 595.5,379.8 595.9,384.9 596.3,388.3 596.7,387.9 597.1,385.6 597.5,382.7 597.9,379.5 598.4,388.4 598.8,385.6 599.2,387.6 599.6,378.9 600.0,388.2 600.5,324.3 600.6,317.2 600.9,308.8 601.3,303.1 601.6,298.2 602.1,293.3 602.5,289.0 603.0,287.8 603.4,286.3 603.8,283.6 604.2,280.3 604.6,278.8 605.1,277.8 605.5,275.7 605.9,275.0 606.3,276.2 606.7,275.9 607.1,272.3 607.5,272.1 607.9,273.8 608.3,270.7 608.7,270.9 609.1,270.3 609.5,269.8 609.9,269.7 610.3,269.6 610.7,268.0 611.1,267.1 611.5,264.3 611.9,266.6 612.3,263.0 612.7,265.0 613.1,263.9 613.5,261.6 613.9,261.2 614.3,262.1 614.7,263.0 615.1,261.0 615.6,260.9 616.0,258.5 616.4,260.6 616.8,259.5 617.2,257.1 617.6,259.7 618.0,257.9 618.4,256.1 618.8,256.0 619.2,258.2 619.6,258.0 620.0,257.6 620.4,254.3 620.8,256.3 621.2,254.3 621.6,253.5 622.0,255.1 622.4,255.1 622.8,252.4 623.2,253.3 623.6,254.4 624.0,252.6 624.4,253.8 624.8,253.8 625.2,254.6 625.6,251.8 626.0,251.0 626.5,251.9 626.9,250.9 627.3,254.2 627.7,253.5 628.1,252.7 628.5,251.1 628.9,251.2 629.3,253.2 629.7,253.8 630.1,253.2 630.5,253.0 630.9,251.6 631.3,254.5 631.7,253.0 632.1,253.8 632.5,254.1 632.8,259.4 632.9,270.0 633.2,364.4 633.6,365.8 634.0,367.2 634.7,368.7 635.7,370.8 636.0,370.2 636.4,372.0 636.8,375.0 637.2,375.3 637.6,375.0 638.0,371.1 638.4,378.2 638.8,377.3 639.2,372.0 639.6,377.2 640.0,379.2 640.4,379.7 640.8,374.7 641.2,377.2 641.6,370.9 642.0,372.1 642.4,371.2 642.8,378.6 643.2,380.5 643.7,380.6 644.1,376.9 644.5,375.0 644.9,377.8 645.3,380.1 645.7,378.5 646.1,376.6 646.5,376.3 646.9,375.8 647.3,375.0 647.7,377.0 648.1,382.6 648.5,375.7 648.9,381.3"/>
<path d="M455.1 246.2H474.6" stroke="#0404fa" stroke-width="1.8" stroke-dasharray="6 1.5 5 1.5 6"/>
<circle cx="465.1" cy="246.2" r="3.6" fill="#0404fa"/>
<rect x="455.10" y="238.30" width="193.80" height="154.80" fill="none" stroke="#000" stroke-width="1.8"/>
<path d="M455.10 393.10v3.5M487.40 393.10v3.5M519.70 393.10v3.5M552.00 393.10v3.5M584.30 393.10v3.5M616.60 393.10v3.5M648.90 393.10v3.5M471.25 393.10v2.0M503.55 393.10v2.0M535.85 393.10v2.0M568.15 393.10v2.0M600.45 393.10v2.0M632.75 393.10v2.0" stroke="#000" stroke-width="1.2" fill="none"/>
<g font-family="'Liberation Sans', Arial, sans-serif" font-weight="bold" font-size="12.7" text-anchor="middle" fill="#000">
<text x="455.10" y="408.70">0</text>
<text x="487.40" y="408.70">20</text>
<text x="519.70" y="408.70">40</text>
<text x="552.00" y="408.70">60</text>
<text x="584.30" y="408.70">80</text>
<text x="616.60" y="408.70">100</text>
<text x="648.90" y="408.70">120</text>
</g>
<path d="M455.10 379.22h-3.7M455.10 343.99h-3.7M455.10 308.76h-3.7M455.10 273.53h-3.7M455.10 238.30h-3.7M455.10 361.60h-2.0M455.10 326.37h-2.0M455.10 291.14h-2.0M455.10 255.91h-2.0" stroke="#000" stroke-width="1.2" fill="none"/>
<g font-family="'Liberation Sans', Arial, sans-serif" font-weight="bold" font-size="13.3" text-anchor="end" fill="#000">
<text x="449.50" y="383.92">0</text>
<text x="449.50" y="348.69">5</text>
<text x="449.50" y="313.46">10</text>
<text x="449.50" y="278.23">15</text>
<text x="449.50" y="243.00">20</text>
</g>
<text x="476.50" y="249.30" font-family="'Liberation Sans', Arial, sans-serif" font-weight="bold" font-size="9.8" text-anchor="start" fill="#000" letter-spacing="0.3">PduA</text>
<text x="551.00" y="423.30" font-family="'Liberation Sans', Arial, sans-serif" font-weight="bold" font-size="12.9" text-anchor="middle" fill="#000" >Time (s)</text>
<text transform="translate(430.00 316.00) rotate(-90)" font-family="'Liberation Sans', Arial, sans-serif" font-weight="bold" font-size="13.1" text-anchor="middle" fill="#000">Photocurrent (nA)</text>
<path d="M523.30 343.00V375.00" stroke="#000" stroke-width="1.1"/>
<path d="M523.30 378.00l-2.1 -6h4.2z" fill="#000"/>
<text x="524.00" y="341.00" font-family="'Liberation Sans', Arial, sans-serif" font-weight="bold" font-size="9.8" text-anchor="middle" fill="#000" >Off</text>
<path d="M558.60 295.00V264.00" stroke="#000" stroke-width="1.1"/>
<path d="M558.60 261.00l-2.1 6h4.2z" fill="#000"/>
<text x="559.00" y="305.00" font-family="'Liberation Sans', Arial, sans-serif" font-weight="bold" font-size="9.8" text-anchor="middle" fill="#000" >On</text>
<polygon points="275.0,549.0 284.8,556.2 324.1,473.4 314.3,465.1" fill="#fbe6e8"/>
<polyline fill="none" stroke="#0404fa" stroke-width="1" marker-start="url(#mf)" marker-mid="url(#mf)" marker-end="url(#mf)" points="244.6,547.7 246.6,547.8 248.5,547.9 250.5,548.0 252.4,548.1 254.4,548.2 256.4,548.2 258.3,548.3 260.3,548.3 262.3,548.4 264.2,548.4 266.2,548.5 268.1,548.7 270.1,548.8 272.1,548.9 274.0,549.0 276.0,549.1 278.0,549.3 279.9,549.4 281.9,549.6 283.8,549.7 285.8,549.5 287.8,544.8 289.7,539.1 291.7,533.4 293.6,528.0 295.6,522.6 297.6,516.6 299.5,510.7 301.5,504.5 303.5,498.2 305.4,492.0 307.4,488.4 309.3,484.8 311.3,481.7 313.3,478.6 315.2,476.8 317.2,474.9 319.2,474.1 321.1,473.2 323.1,472.4 325.0,470.8 327.0,469.3 329.0,468.2 330.9,467.2 332.9,467.7 334.9,468.2 336.8,467.2 338.8,466.1 340.7,464.1 342.7,462.0"/>
<path d="M244.6 441.9H254.8" stroke="#0404fa" stroke-width="1.1"/>
<circle cx="249.8" cy="441.9" r="1.7" fill="#0404fa"/>
<rect x="244.60" y="433.80" width="98.10" height="129.50" fill="none" stroke="#000" stroke-width="1.8"/>
<path d="M244.60 563.30v3.5M264.22 563.30v3.5M283.84 563.30v3.5M303.46 563.30v3.5M323.08 563.30v3.5M342.70 563.30v3.5M254.41 563.30v2.0M274.03 563.30v2.0M293.65 563.30v2.0M313.27 563.30v2.0M332.89 563.30v2.0" stroke="#000" stroke-width="1.2" fill="none"/>
<g font-family="'Liberation Sans', Arial, sans-serif" font-weight="bold" font-size="11.4" text-anchor="middle" fill="#000">
<text x="244.60" y="577.30">5</text>
<text x="264.22" y="577.30">6</text>
<text x="283.84" y="577.30">7</text>
<text x="303.46" y="577.30">8</text>
<text x="323.08" y="577.30">9</text>
<text x="342.70" y="577.30">10</text>
</g>
<path d="M244.60 550.00h-3.7M244.60 524.12h-3.7M244.60 498.24h-3.7M244.60 472.36h-3.7M244.60 446.48h-3.7M244.60 537.06h-2.0M244.60 511.18h-2.0M244.60 485.30h-2.0M244.60 459.42h-2.0" stroke="#000" stroke-width="1.2" fill="none"/>
<g font-family="'Liberation Sans', Arial, sans-serif" font-weight="bold" font-size="11.4" text-anchor="end" fill="#000">
<text x="240.00" y="554.10">0</text>
<text x="240.00" y="528.22">5</text>
<text x="240.00" y="502.34">10</text>
<text x="240.00" y="476.46">15</text>
<text x="240.00" y="450.58">20</text>
</g>
<text x="256.90" y="443.00" font-family="'Liberation Sans', Arial, sans-serif" font-weight="bold" font-size="8.8" text-anchor="start" fill="#000" >PduA</text>
<text x="292.00" y="590.50" font-family="'Liberation Sans', Arial, sans-serif" font-weight="bold" font-size="11.3" text-anchor="middle" fill="#000" >Time (s)</text>
<text transform="translate(228.30 496.20) rotate(-90)" font-family="'Liberation Sans', Arial, sans-serif" font-weight="bold" font-size="11.6" text-anchor="middle" fill="#000">Photocurrent (nA)</text>
<text x="286.8" y="558" font-family="'Liberation Sans', Arial, sans-serif" font-weight="bold" font-size="11.3" fill="#000">τ<tspan font-weight="normal" font-size="8.5" dy="2.6">rise</tspan><tspan dy="-2.6">- 1.41 s</tspan></text>
<polygon points="532.2,449.1 542.2,439.7 573.5,525.7 562.3,532.0" fill="#fbe6e8"/>
<polyline fill="none" stroke="#0404fa" stroke-width="1" marker-start="url(#mf)" marker-mid="url(#mf)" marker-end="url(#mf)" points="511.9,444.4 514.3,444.1 516.8,443.7 519.2,443.4 521.7,443.9 524.1,444.4 526.6,445.0 529.0,444.1 531.5,443.2 533.9,442.4 536.4,443.4 538.8,444.4 541.2,451.2 543.7,456.4 546.1,462.7 548.6,468.9 551.0,476.4 553.5,485.1 555.9,493.8 558.4,502.3 560.8,510.6 563.2,519.5 565.7,517.4 568.1,522.6 570.6,524.4 573.0,526.2 575.5,528.0 577.9,529.7 580.4,531.4 582.8,532.7 585.2,533.9 587.7,535.1 590.1,536.0 592.6,536.9 595.0,537.8 597.5,538.7 599.9,539.3 602.4,539.8 604.8,540.3 607.3,540.8 609.7,541.3"/>
<path d="M571.18 443.39h9.6" stroke="#0404fa" stroke-width="1.1"/>
<circle cx="575.98" cy="443.39" r="1.8" fill="#0404fa"/>
<rect x="511.90" y="434.10" width="97.80" height="129.50" fill="none" stroke="#000" stroke-width="1.8"/>
<path d="M511.90 563.60v2.5M536.35 563.60v2.5M560.80 563.60v2.5M585.25 563.60v2.5M609.70 563.60v2.5M524.12 563.60v1.5M548.58 563.60v1.5M573.02 563.60v1.5M597.48 563.60v1.5" stroke="#000" stroke-width="1.2" fill="none"/>
<g font-family="'Liberation Sans', Arial, sans-serif" font-weight="bold" font-size="10.6" text-anchor="middle" fill="#000">
<text x="511.90" y="575.00">27</text>
<text x="536.35" y="575.00">28</text>
<text x="560.80" y="575.00">29</text>
<text x="585.25" y="575.00">30</text>
<text x="609.70" y="575.00">31</text>
</g>
<path d="M511.90 550.20h-2.5M511.90 524.15h-2.5M511.90 498.10h-2.5M511.90 472.05h-2.5M511.90 446.00h-2.5M511.90 537.17h-1.5M511.90 511.12h-1.5M511.90 485.07h-1.5M511.90 459.02h-1.5" stroke="#000" stroke-width="1.2" fill="none"/>
<g font-family="'Liberation Sans', Arial, sans-serif" font-weight="bold" font-size="10.6" text-anchor="end" fill="#000">
<text x="508.70" y="554.00">0</text>
<text x="508.70" y="527.95">5</text>
<text x="508.70" y="501.90">10</text>
<text x="508.70" y="475.85">15</text>
<text x="508.70" y="449.80">20</text>
</g>
<text x="582.78" y="445.79" font-family="'Liberation Sans', Arial, sans-serif" font-weight="bold" font-size="8.9" text-anchor="start" fill="#000" >PduA</text>
<text x="559.00" y="589.00" font-family="'Liberation Sans', Arial, sans-serif" font-weight="bold" font-size="11.6" text-anchor="middle" fill="#000" >Time (s)</text>
<text transform="translate(494.20 498.50) rotate(-90)" font-family="'Liberation Sans', Arial, sans-serif" font-weight="bold" font-size="9.9" text-anchor="middle" fill="#000">Photocurrent (nA)</text>
<text x="515" y="555" font-family="'Liberation Sans', Arial, sans-serif" font-weight="bold" font-size="10.7" fill="#000">τ<tspan font-size="7.3" dy="2.6">decay</tspan><tspan dy="-2.6">- 1.73 s</tspan></text>
</svg>
</body></html>
